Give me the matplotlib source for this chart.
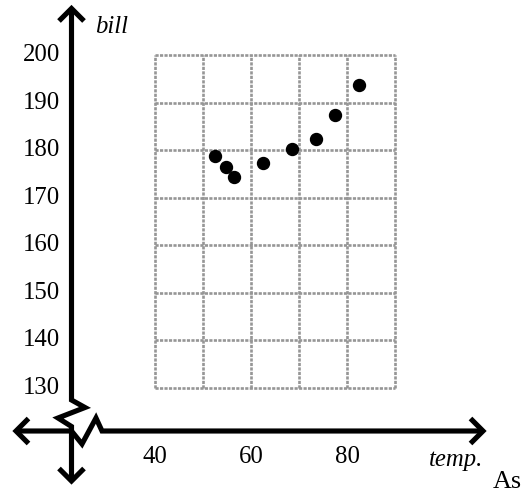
import matplotlib
matplotlib.use("Agg")
import matplotlib.pyplot as plt
from matplotlib.lines import Line2D

# Scatter data: temperature vs. bill
temp = [52.6, 54.8, 56.5, 62.6, 68.5, 73.5, 77.6, 82.5]
bill = [178.7, 176.5, 174.4, 177.4, 180.3, 182.4, 187.5, 193.8]

x_ticks = [40, 60, 80]
y_ticks = [130, 140, 150, 160, 170, 180, 190, 200]
x_grid = [40, 50, 60, 70, 80, 90]
y_grid = y_ticks

W, H = 525, 493
fig = plt.figure(figsize=(W / 100, H / 100), dpi=100)
ax = fig.add_axes([0, 0, 1, 1])
ax.set_xlim(7.708, 117.08)
ax.set_ylim(107.85, 211.64)
ax.axis("off")

serif = "Liberation Serif"
fs = 17.8

# dotted grid over the plotting region
grid_kw = dict(color="#969696", lw=1.9, linestyle=(0, (1.2, 0.5)))
ax.vlines(x_grid, y_grid[0], y_grid[-1], **grid_kw)
ax.hlines(y_grid, x_grid[0], x_grid[-1], **grid_kw)

ax.plot(temp, bill, "o", color="black", ms=8.6, zorder=5)

# axis lines (drawn in pixel space, origin top-left)
def P(pts):
    xs = [p[0] / W for p in pts]
    ys = [1 - p[1] / H for p in pts]
    return xs, ys

axis_kw = dict(color="black", lw=3.7, solid_joinstyle="miter",
               solid_capstyle="butt", transform=fig.transFigure)

def draw(pts, **kw):
    xs, ys = P(pts)
    fig.add_artist(Line2D(xs, ys, **{**axis_kw, **kw}))

ax_x = 71.5   # vertical axis position
ax_y = 431    # horizontal axis position

# vertical axis with break
draw([(ax_x, 10), (ax_x, 400), (85, 407.5), (58, 418), (ax_x, 426.5), (ax_x, 480)])
# horizontal axis with break
draw([(17, ax_y), (ax_x, ax_y), (82, 444), (96, 418), (102, ax_y), (481, ax_y)])

# chevron arrowheads
draw([(59, 21), (ax_x, 8.5), (84, 21)])
draw([(59, 468.5), (ax_x, 481), (84, 468.5)])
draw([(28.5, 418.5), (16, ax_y), (28.5, 443.5)])
draw([(470.5, 418.5), (483, ax_y), (470.5, 443.5)])

# tick labels
for v in y_ticks:
    ax.text(20.2, v, str(v), ha="right", va="center", fontsize=fs, family=serif)
for v in x_ticks:
    ax.text(v, 115.4, str(v), ha="center", va="center", fontsize=fs, family=serif)

fig.text(95 / W, 1 - 27 / H, "bill", ha="left", va="center", fontsize=fs,
         family=serif, style="italic")
fig.text(429 / W, 1 - 460 / H, "temp.", ha="left", va="center", fontsize=fs,
         family=serif, style="italic")
fig.text(493 / W, 1 - 488 / H, "As", ha="left", va="baseline", fontsize=fs + 1,
         family=serif)

fig.savefig("out.png", dpi=100)
